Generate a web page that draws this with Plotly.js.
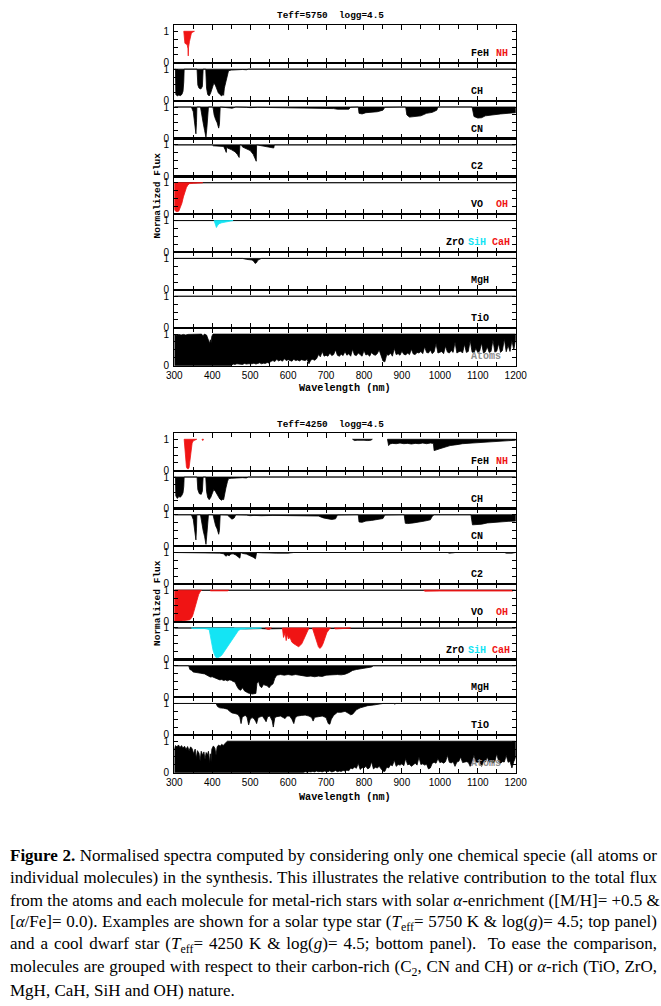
<!DOCTYPE html>
<html><head><meta charset="utf-8">
<script src="https://cdn.plot.ly/plotly-3.0.1.min.js"></script>
<style>html,body{margin:0;padding:0;background:#fff}#chart{width:661px;height:1006px}</style>
</head><body><div id="chart"></div>
<script>
// ---------------- DATA (wavelength nm, normalised flux) ----------------
const CONTINUUM = 1;
const XTICKS = [300,400,500,600,700,800,900,1000,1100,1200];
const XTICK_LABELS = ['300','400','500','600','700','800','900','1000','1100','1200'];
const YTICKS = [0,1];
const YTICK_LABELS = ['0','1'];
const YMINOR = [0.25,0.5,0.75];

// ---- Teff = 5750, logg = 4.5 ----
const NH_5750 = [[325,1],[328,0.62],[331,0.6],[334,0.57],[336,0.45],[336.8,0.22],[337.6,0.5],[340,0.68],[342,0.84],[345,0.94],[349,0.98],[353,1]];
const CH_5750 = [[300,1],[303,1],[304,0.2],[308,0.15],[312,0.18],[316,0.16],[320,0.2],[323,0.3],[325,0.6],[326,1],[360,1],[362,0.5],[365,0.4],[370,0.37],[374,0.45],[376,1],[383,1],[385,0.4],[388,0.2],[392,0.15],[396,0.25],[400,0.4],[404,0.55],[408,0.5],[412,0.35],[416,0.25],[420,0.2],[425,0.15],[428,0.2],[430,0.17],[432,0.4],[436,0.6],[440,0.8],[443,0.95],[450,0.97],[460,0.98],[470,0.97],[480,0.99],[490,0.98],[495,1],[1200,1]];
const CN_5750 = [[300,1],[345,1],[350,0.85],[354,0.5],[357,0.15],[358.5,0.5],[359.5,1],[369,1],[372,0.75],[376,0.5],[380,0.25],[383.5,0.04],[386,0.35],[388.5,0.75],[390,1],[402,1],[405,0.75],[409,0.6],[413,0.5],[417,0.33],[419,0.45],[421,1],[440,0.99],[447,0.97],[452,0.96],[458,0.97],[462,1],[490,0.99],[500,0.98],[520,0.99],[590,0.98],[620,0.97],[650,0.98],[680,0.97],[700,0.97],[720,0.95],[730,0.93],[745,0.92],[760,0.93],[765,0.99],[785,1],[787,0.8],[795,0.78],[805,0.82],[820,0.84],[835,0.85],[850,0.9],[855,0.99],[910,1],[913,0.75],[920,0.68],[935,0.7],[950,0.72],[965,0.8],[980,0.83],[992,0.9],[995,1],[1085,1],[1090,0.7],[1100,0.65],[1110,0.66],[1120,0.72],[1140,0.76],[1160,0.78],[1180,0.8],[1200,0.82]];
const C2_5750 = [[300,1],[400,1],[403,0.97],[420,0.96],[430,0.95],[434,0.85],[437,0.76],[438.5,0.95],[440,0.9],[450,0.85],[460,0.78],[466,0.7],[471,0.6],[473,1],[477,1],[480,0.93],[490,0.88],[500,0.82],[508,0.7],[513,0.55],[516,0.48],[517,1],[530,0.97],[545,0.94],[555,0.93],[562,0.9],[564,1],[1200,1]];
const VO_5750 = [[300,1],[1200,1]];
const OH_5750 = [[300,1],[300,0.15],[303,0.1],[307,0.08],[312,0.1],[316,0.2],[320,0.35],[324,0.55],[328,0.72],[332,0.85],[336,0.93],[340,0.97],[350,0.98],[360,0.99],[372,0.995],[375,1]];
const ZrO_5750 = [[300,1],[1200,1]];
const SiH_5750 = [[405,1],[408,0.85],[411,0.78],[414,0.84],[418,0.9],[425,0.93],[435,0.96],[445,0.98],[455,1]];
const MgH_5750 = [[300,1],[480,1],[490,0.97],[500,0.96],[505,0.95],[510,0.9],[513,0.84],[517,0.87],[520,0.94],[526,0.98],[530,1],[1200,1]];
const TiO_5750 = [[300,1],[1200,1]];
const ATOMS_5750_LO = [[300,0],[450,0],[455,0.05],[460,0.04],[465,0.06],[470,0.05],[475,0.06],[480,0.04],[485,0.07],[490,0.05],[495,0.06],[500,0.05],
[505,0.06],[510,0.08],[515,0.05],[520,0.07],[525,0.09],[530,0.06],[535,0.08],[540,0.07],[545,0.1],[550,0.08],
[555,0.14],[560,0.16],[565,0.13],[570,0.2],[575,0.15],[580,0.18],[585,0.14],[590,0.22],[595,0.16],[600,0.19],
[605,0.17],[610,0.14],[615,0.2],[620,0.16],[625,0.18],[630,0.15],[635,0.19],[640,0.17],[645,0.16],[650,0.2],
[655,0.06],[660,0.18],[665,0.2],[670,0.17],[675,0.22],[680,0.35],[685,0.28],[690,0.45],[695,0.3],[700,0.33],
[705,0.3],[710,0.4],[715,0.32],[720,0.35],[725,0.5],[730,0.33],[735,0.3],[740,0.36],[745,0.32],[750,0.45],
[755,0.33],[760,0.38],[765,0.3],[770,0.52],[775,0.34],[780,0.32],[785,0.4],[790,0.35],[795,0.3],[800,0.48],
[805,0.34],[810,0.36],[815,0.3],[820,0.42],[825,0.35],[830,0.33],[835,0.38],[840,0.5],[845,0.32],[850,0.15],
[855,0.12],[860,0.35],[865,0.33],[870,0.4],[875,0.3],[880,0.55],[885,0.35],[890,0.38],[895,0.33],[900,0.46],
[905,0.36],[910,0.34],[915,0.4],[920,0.35],[925,0.52],[930,0.37],[935,0.35],[940,0.42],[945,0.4],[950,0.45],
[955,0.38],[960,0.6],[965,0.42],[970,0.4],[975,0.5],[980,0.38],[985,0.44],[990,0.7],[995,0.4],[1000,0.42],
[1005,0.45],[1010,0.38],[1015,0.62],[1020,0.43],[1025,0.4],[1030,0.48],[1035,0.42],[1040,0.75],[1045,0.4],[1050,0.44],
[1055,0.46],[1060,0.4],[1065,0.68],[1070,0.42],[1075,0.45],[1080,0.8],[1085,0.43],[1090,0.4],[1095,0.55],[1100,0.42],
[1105,0.46],[1110,0.72],[1115,0.4],[1120,0.44],[1125,0.6],[1130,0.42],[1135,0.45],[1140,0.82],[1145,0.43],[1150,0.46],
[1155,0.7],[1160,0.42],[1165,0.48],[1170,0.85],[1175,0.44],[1180,0.65],[1185,0.45],[1190,0.8],[1195,0.5],[1200,0.85]];
const ATOMS_5750_HI = [[300,0.98],[306,0.96],[312,0.99],[318,0.97],[324,0.99],[330,0.97],[336,0.99],[342,0.98],[350,1],[372,1],[376,0.93],[379,1],[385,0.97],[389,0.88],[393.4,0.7],[395,0.82],[396.8,0.72],[399,0.93],[402,1],[1200,1]];

// ---- Teff = 4250, logg = 4.5 ----
const FeH_4250 = [[770,1],[775,0.96],[782,0.97],[790,0.96],[800,0.97],[810,0.96],[818,0.97],[822,1],null,[862,1],[865,0.8],[868,0.85],[875,0.87],[885,0.86],[895,0.88],[905,0.86],[915,0.87],[925,0.85],[935,0.87],[945,0.86],[955,0.88],[965,0.86],[975,0.88],[983,0.87],[985,0.64],[1000,0.7],[1013,0.76],[1027,0.8],[1045,0.83],[1060,0.86],[1085,0.88],[1115,0.9],[1150,0.93],[1175,0.95],[1192,0.96],[1200,0.97]];
const NH_4250 = [[326,1],[328,0.7],[330,0.3],[332,0.12],[334,0.07],[337,0.06],[339,0.1],[341,0.3],[343,0.55],[345,0.75],[347,0.88],[350,0.95],[355,0.98],[359,1],null,[373,1],[375,0.96],[377,1]];
const CH_4250 = [[300,1],[303,1],[304,0.4],[308,0.32],[312,0.38],[316,0.36],[320,0.42],[323,0.5],[325,0.7],[326,1],[360,1],[362,0.6],[366,0.47],[371,0.45],[374,0.55],[376,1],[383,1],[385,0.55],[388,0.35],[392,0.28],[396,0.35],[400,0.45],[404,0.6],[408,0.55],[412,0.45],[416,0.35],[420,0.3],[425,0.26],[428,0.3],[430,0.28],[432,0.45],[436,0.65],[440,0.85],[443,0.95],[450,0.96],[460,0.97],[470,0.97],[480,0.98],[490,0.97],[495,1],[1200,1]];
const CN_4250 = [[300,1],[345,1],[350,0.85],[354,0.55],[357,0.2],[358.5,0.55],[359.5,1],[369,1],[372,0.75],[376,0.5],[380,0.3],[383.5,0.06],[386,0.4],[388.5,0.75],[390,1],[402,1],[405,0.8],[409,0.65],[413,0.55],[417,0.38],[419,0.5],[421,1],[440,0.99],[447,0.9],[452,0.86],[458,0.9],[462,1],[490,0.99],[500,0.97],[510,0.98],[530,0.97],[560,0.98],[590,0.97],[620,0.96],[650,0.97],[680,0.96],[693,0.9],[705,0.86],[715,0.85],[725,0.87],[730,0.99],[785,1],[787,0.77],[795,0.76],[805,0.8],[820,0.82],[835,0.84],[850,0.88],[855,0.99],[906,1],[909,0.73],[915,0.72],[930,0.74],[945,0.76],[960,0.8],[975,0.84],[980,0.95],[985,1],[1082,1],[1086,0.68],[1095,0.68],[1110,0.7],[1125,0.74],[1140,0.76],[1160,0.78],[1180,0.79],[1200,0.8]];
const C2_4250 = [[300,1],[400,1],[405,0.99],[420,0.98],[430,0.96],[436,0.88],[440,0.92],[445,0.9],[449,0.95],[455,0.96],[462,0.92],[468,0.85],[473,0.82],[475,1],[480,0.97],[490,0.95],[500,0.9],[508,0.85],[514,0.8],[517,1],[530,0.99],[550,0.98],[570,0.98],[600,0.98],[615,1],[1020,1],[1025,0.98],[1035,0.99],[1040,1],[1170,1],[1175,0.98],[1190,0.98],[1195,1],[1200,1]];
const VO_4250 = [[300,1],[372,1],[375,0.98],[392,0.98],[394,1],[500,1],[503,0.98],[528,0.98],[530,1],[587,1],[589,0.98],[612,0.98],[614,1],[1200,1]];
const OH_4250 = [[300,1],[300,0.02],[310,0.01],[320,0.02],[335,0.04],[341,0.06],[345,0.12],[348,0.18],[351,0.3],[354,0.45],[357,0.6],[360,0.74],[364,0.86],[368,0.95],[372,1],null,[394,1],[396,0.98],[440,0.98],[443,1],null,[958,1],[960,0.97],[1000,0.975],[1050,0.97],[1100,0.975],[1150,0.97],[1193,0.975],[1195,1]];
const ZrO_4250 = [[300,1],[458,1],[460,0.97],[470,0.98],[485,0.97],[500,0.98],[515,0.97],[530,0.98],[545,0.97],[560,0.98],[575,0.97],[590,0.98],[605,0.97],[620,0.98],[640,0.97],[660,0.98],[680,0.98],[700,0.98],[703,1],[1200,1]];
const SiH_4250 = [[345,1],[350,0.98],[380,0.98],[392,0.95],[395,0.75],[398,0.5],[402,0.3],[406,0.15],[410,0.06],[414,0.05],[418,0.07],[422,0.1],[426,0.15],[430,0.22],[435,0.3],[440,0.4],[445,0.5],[450,0.58],[455,0.65],[460,0.75],[465,0.85],[469,0.92],[475,0.96],[490,0.97],[510,0.98],[526,0.99],[530,1]];
const CaH_4250 = [[540,1],[545,0.96],[550,0.95],[556,1],null,[585,1],[588,0.7],[592,0.85],[595,0.6],[598,0.8],[601,0.65],[605,0.7],[610,0.55],[615,0.5],[620,0.45],[625,0.42],[628,0.4],[632,0.45],[636,0.5],[640,0.6],[645,0.75],[650,0.9],[655,1],null,[664,1],[668,0.85],[672,0.65],[676,0.5],[680,0.4],[684,0.35],[688,0.4],[692,0.5],[697,0.7],[702,0.85],[708,0.95],[712,1],null,[722,1],[725,0.97],[740,0.98],[760,0.98],[765,1]];
const MgH_4250 = [[300,1],[338,1],[341,0.88],[345,0.86],[350,0.8],[360,0.77],[370,0.76],[380,0.74],[385,0.7],[390,0.66],[395,0.64],[400,0.65],[405,0.62],[410,0.6],[415,0.57],[420,0.55],[425,0.56],[430,0.53],[435,0.55],[440,0.52],[445,0.55],[450,0.54],[455,0.5],[460,0.48],[465,0.35],[470,0.25],[475,0.22],[480,0.3],[485,0.2],[490,0.15],[495,0.13],[500,0.12],[505,0.1],[510,0.11],[515,0.12],[518,0.45],[522,0.5],[526,0.35],[530,0.3],[535,0.4],[540,0.38],[545,0.36],[550,0.3],[555,0.38],[560,0.42],[565,0.6],[570,0.7],[580,0.72],[590,0.7],[600,0.72],[610,0.7],[620,0.72],[630,0.7],[640,0.68],[650,0.66],[660,0.67],[670,0.65],[680,0.67],[690,0.66],[700,0.7],[710,0.71],[720,0.7],[730,0.72],[740,0.71],[750,0.73],[760,0.78],[770,0.85],[780,0.88],[790,0.9],[800,0.94],[810,0.95],[820,0.96],[825,1],[1200,1]];
const TiO_4250 = [[300,1],[410,1],[414,0.9],[420,0.86],[430,0.85],[440,0.82],[446,0.75],[452,0.7],[460,0.68],[468,0.65],[473,0.55],[476,0.36],[479,0.55],[483,0.6],[488,0.62],[492,0.55],[496,0.32],[500,0.5],[505,0.55],[510,0.52],[515,0.42],[517,0.36],[521,0.55],[526,0.58],[532,0.6],[538,0.5],[542,0.42],[546,0.58],[552,0.6],[558,0.45],[561,0.25],[565,0.55],[570,0.58],[580,0.6],[588,0.55],[592,0.52],[597,0.6],[604,0.6],[610,0.5],[615,0.36],[619,0.55],[625,0.6],[635,0.62],[645,0.63],[655,0.6],[662,0.55],[666,0.44],[670,0.56],[680,0.58],[690,0.6],[700,0.55],[706,0.36],[710,0.34],[714,0.5],[720,0.62],[730,0.72],[740,0.72],[750,0.75],[760,0.68],[765,0.64],[770,0.66],[780,0.8],[790,0.86],[800,0.9],[810,0.93],[825,0.95],[840,0.97],[850,1],[878,1],[880,0.98],[885,1],[928,1],[930,0.98],[940,1],[998,1],[1000,0.98],[1010,1],[1118,1],[1120,0.98],[1125,1],[1200,1]];
const ATOMS_4250_LO = [[300,0],[640,0],[645,0.03],[650,0.01],[655,0.03],[660,0.02],[665,0.04],[670,0.02],[675,0.05],[680,0.03],[685,0.04],[690,0.02],[695,0.05],[700,0.03],[705,0.03],[710,0.06],[715,0.02],[720,0.04],[725,0.07],[730,0.03],[735,0.05],[740,0.04],[745,0.07],[750,0.05],[755,0.08],[760,0.06],
[765,0.15],[770,0.12],[775,0.18],[780,0.14],[785,0.3],[790,0.1],[795,0.16],[800,0.15],[805,0.2],[810,0.12],[815,0.16],[820,0.35],[825,0.12],[830,0.17],[835,0.15],[840,0.2],[845,0.14],[850,0.05],[855,0.04],[860,0.18],[865,0.15],
[870,0.25],[875,0.22],[880,0.4],[885,0.2],[890,0.26],[895,0.24],[900,0.28],[905,0.22],[910,0.45],[915,0.25],[920,0.27],[925,0.2],[930,0.26],[935,0.3],[940,0.24],[945,0.5],[950,0.26],[955,0.28],[960,0.24],[965,0.27],
[970,0.12],[975,0.15],[980,0.3],[985,0.33],[990,0.3],[995,0.45],[1000,0.32],[1005,0.34],[1010,0.3],[1015,0.35],[1020,0.55],[1025,0.33],[1030,0.31],[1035,0.35],[1040,0.2],[1045,0.34],[1050,0.36],[1055,0.5],[1060,0.32],
[1065,0.34],[1070,0.35],[1075,0.33],[1080,0.2],[1085,0.36],[1090,0.55],[1095,0.34],[1100,0.33],[1105,0.36],[1110,0.2],[1115,0.35],[1120,0.34],[1125,0.5],[1130,0.33],[1135,0.36],[1140,0.3],[1145,0.35],[1150,0.6],
[1155,0.36],[1160,0.3],[1165,0.35],[1170,0.34],[1175,0.55],[1180,0.33],[1185,0.36],[1190,0.15],[1195,0.35],[1200,0.5]];
const ATOMS_4250_HI = [[300,0.72],[303,0.86],[307,0.82],[311,0.88],[315,0.8],[319,0.86],[323,0.78],[327,0.84],[331,0.74],[335,0.83],[339,0.7],[343,0.82],[347,0.76],[351,0.6],[355,0.75],[358,0.45],[361,0.7],[365,0.62],[368,0.38],[371,0.68],[375,0.55],[378,0.66],[381,0.42],[384,0.64],[387,0.55],[390,0.68],[393.4,0.3],[395,0.6],[396.8,0.35],[399,0.75],[403,0.85],[407,0.78],[410,0.55],[413,0.82],[417,0.88],[421,0.84],[425,0.9],[429,0.86],[433,0.93],[437,0.97],[440,1],[1200,1]];

const TITLES = ['Teff=5750\u00A0\u00A0logg=4.5','Teff=4250\u00A0\u00A0logg=4.5'];
// label text, colour key, x position (px) and anchor
const SPECIES_LABELS = [
  [['FeH','#000',469.5,'left'],['NH','RED',510,'right']], [['CH','#000',469.5,'left']], [['CN','#000',469.5,'left']], [['C2','#000',469.5,'left']],
  [['VO','#000',469.5,'left'],['OH','RED',510,'right']], [['ZrO','#000',455,'center'],['SiH','CYAN',477.5,'center'],['CaH','RED',501.3,'center']],
  [['MgH','#000',469.5,'left']], [['TiO','#000',469.5,'left']], [['Atoms','GREY',469.5,'left']]
];
const CAPTION = [
 '<b>Figure 2.</b> Normalised spectra computed by considering only one chemical specie (all atoms or',
 'individual molecules) in the synthesis. This illustrates the relative contribution to the total flux',
 'from the atoms and each molecule for metal-rich stars with solar <i>α</i>-enrichment ([M/H]= +0.5 &amp;',
 '[<i>α</i>/Fe]= 0.0). Examples are shown for a solar type star (<i>T</i><sub>eff</sub>= 5750 K &amp; log(<i>g</i>)= 4.5; top panel)',
 'and a cool dwarf star (<i>T</i><sub>eff</sub>= 4250 K &amp; log(<i>g</i>)= 4.5; bottom panel).  To ease the comparison,',
 'molecules are grouped with respect to their carbon-rich (C<sub>2</sub>, CN and CH) or <i>α</i>-rich (TiO, ZrO,',
 'MgH, CaH, SiH and OH) nature.'
];

// ---------------- STYLE / LAYOUT ----------------
const COLORS = {RED:'#f01414', CYAN:'#14e4f4', GREY:'#8c8c8c'};
const W = 661, H = 1006;
const FX0 = 174.3, FX1 = 515.7;
const FIGS = [
  {top:25, step:37.85, titleY:15.7, xlabY:388.7, ylabY:195.5},
  {top:433, step:37.74, titleY:424.5, xlabY:797.7, ylabY:603}
];
const PANELS = [
  [[{lo:NH_5750,c:'RED'}],[{lo:CH_5750}],[{lo:CN_5750}],[{lo:C2_5750}],
   [{lo:VO_5750},{lo:OH_5750,c:'RED'}],[{lo:ZrO_5750},{lo:SiH_5750,c:'CYAN'}],
   [{lo:MgH_5750}],[{lo:TiO_5750}],[{lo:ATOMS_5750_LO,hi:ATOMS_5750_HI}]],
  [[{lo:FeH_4250},{lo:NH_4250,c:'RED'}],[{lo:CH_4250}],[{lo:CN_4250}],[{lo:C2_4250}],
   [{lo:VO_4250},{lo:OH_4250,c:'RED'}],[{lo:ZrO_4250},{lo:SiH_4250,c:'CYAN'},{lo:CaH_4250,c:'RED'}],
   [{lo:MgH_4250}],[{lo:TiO_4250}],[{lo:ATOMS_4250_LO,hi:ATOMS_4250_HI}]]
];
const col = c => (c && COLORS[c]) ? COLORS[c] : (c || '#000');
const px = p => p / W, py = p => 1 - p / H;

function buildXY(s){
  const x = [], y = [];
  const segs = []; let cur = [];
  s.lo.forEach(p => { if (p === null) { if (cur.length) segs.push(cur); cur = []; } else cur.push(p); });
  if (cur.length) segs.push(cur);
  segs.forEach((g, i) => {
    g.forEach(p => { x.push(p[0]); y.push(p[1]); });
    if (s.hi) { s.hi.slice().reverse().forEach(p => { x.push(p[0]); y.push(p[1]); }); }
    else { x.push(g[g.length-1][0], g[0][0]); y.push(CONTINUUM, CONTINUUM); }
    if (i < segs.length - 1) { x.push(null); y.push(null); }
  });
  return {x, y};
}

const data = [];
const layout = {
  width: W, height: H, margin:{l:0,r:0,t:0,b:0},
  paper_bgcolor:'#fff', plot_bgcolor:'#fff', showlegend:false,
  annotations: []
};
const mono = 'Liberation Mono, DejaVu Sans Mono, monospace';
const sans = 'Liberation Sans, Arial, sans-serif';
const serif = 'Liberation Serif, Times New Roman, serif';

FIGS.forEach((F, f) => {
  for (let k = 0; k < 9; k++) {
    const n = f * 9 + k + 1, id = n === 1 ? '' : String(n);
    const top = F.top + k * F.step, bot = top + F.step;
    layout['xaxis' + id] = {
      domain:[px(FX0), px(FX1)], range:[300,1200], anchor:'y' + id,
      showline:true, linecolor:'#000', linewidth:1.2, mirror:'ticks',
      ticks:'inside', ticklen:5, tickwidth:1, tickcolor:'#000',
      tickmode:'array', tickvals:XTICKS, ticktext:XTICK_LABELS,
      showticklabels: k === 8, tickfont:{family:sans, size:10, color:'#000'},
      minor:{tickmode:'linear', tick0:350, dtick:100, ticks:'inside', ticklen:4, tickwidth:1, tickcolor:'#000'},
      showgrid:false, zeroline:false, fixedrange:true
    };
    layout['yaxis' + id] = {
      domain:[py(bot), py(top)], range:[0,1.2], anchor:'x' + id,
      showline:true, linecolor:'#000', linewidth:1.2, mirror:'ticks',
      ticks:'inside', ticklen:4, tickwidth:1, tickcolor:'#000',
      tickmode:'array', tickvals:YTICKS, ticktext:YTICK_LABELS,
      minor:{tickmode:'array', tickvals:YMINOR, ticks:'inside', ticklen:4, tickwidth:1, tickcolor:'#000'},
      tickfont:{family:sans, size:10, color:'#000'}, ticklabelstandoff:2,
      showgrid:false, zeroline:false, fixedrange:true
    };
    PANELS[f][k].forEach(s => {
      const xy = buildXY(s);
      data.push({type:'scatter', mode:'lines', x:xy.x, y:xy.y, xaxis:'x' + id, yaxis:'y' + id,
        fill:'toself', fillcolor:col(s.c), line:{color:col(s.c), width:0.8}, hoverinfo:'skip'});
    });
    const ly = py(bot - 0.3 * F.step / 1.2);
    SPECIES_LABELS[k].forEach(L => {
      layout.annotations.push({xref:'paper', yref:'paper', x:px(L[2]), y:ly, xanchor:L[3], yanchor:'middle',
        text:L[0], showarrow:false, font:{family:mono, size:10, weight:'bold', color:col(L[1])}});
    });
  }
  layout.annotations.push({xref:'paper', yref:'paper', x:px(330.3), y:py(F.titleY), xanchor:'center', yanchor:'middle',
    text:TITLES[f], showarrow:false, font:{family:mono, size:9.4, weight:'bold', color:'#000'}});
  layout.annotations.push({xref:'paper', yref:'paper', x:px(345), y:py(F.xlabY), xanchor:'center', yanchor:'middle',
    text:'Wavelength (nm)', showarrow:false, font:{family:mono, size:10.2, weight:'bold', color:'#000'}});
  layout.annotations.push({xref:'paper', yref:'paper', x:px(157), y:py(F.ylabY), xanchor:'center', yanchor:'middle',
    text:'Normalized Flux', textangle:-90, showarrow:false, font:{family:mono, size:9.5, weight:'bold', color:'#000'}});
});

const CAP_Y0 = 855, CAP_DY = 22.6;
const capStart = layout.annotations.length;
CAPTION.forEach((t, i) => {
  layout.annotations.push({xref:'paper', yref:'paper', x:px(8), y:py(CAP_Y0 + i * CAP_DY), xanchor:'left', yanchor:'middle',
    text:t, showarrow:false, align:'left', font:{family:serif, size:17, color:'#000'}});
});

Plotly.newPlot('chart', data, layout, {displayModeBar:false, staticPlot:true}).then(() => {
  // justify caption lines (all but the last) to the text block width
  try {
    const target = 655 - 8;
    for (let i = 0; i < CAPTION.length - 1; i++) {
      const g = document.querySelector('.annotation[data-index="' + (capStart + i) + '"] text.annotation-text');
      if (!g) continue;
      const w = g.getComputedTextLength();
      const n = (g.textContent.match(/ /g) || []).length;
      if (n > 0 && w < target) g.style.wordSpacing = ((target - w) / n) + 'px';
    }
  } catch (e) {}
});
</script></body></html>
